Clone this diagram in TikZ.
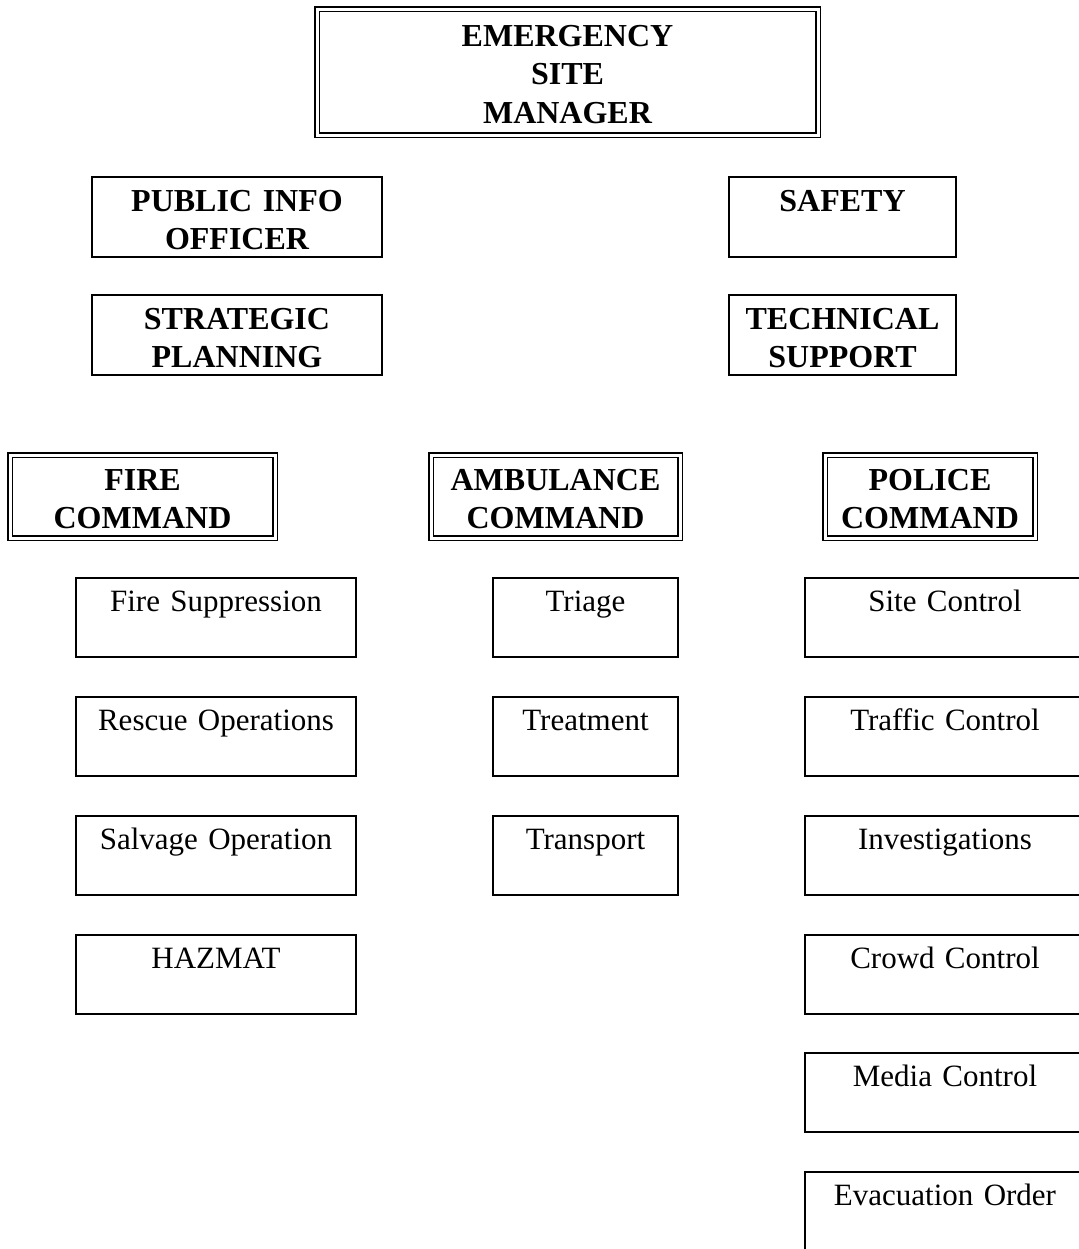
\documentclass[tikz,border=0pt]{standalone}
\usepackage{fontspec}
\setmainfont{Liberation Serif}
\usepackage{tikz}
\usetikzlibrary{positioning}
\tikzset{
    box/.style={draw, line width=0.8pt, inner sep=0pt, outer sep=0pt,
        anchor=north west, align=center},
    head/.style={box, font=\fontsize{16}{19.25}\selectfont\bfseries,
        text height=17pt, text depth=23pt},
    cmd/.style={head, double, line width=0.6pt, double distance=1.5pt,
        text height=17.5pt, text depth=24pt},
    unit/.style={box, font=\fontsize{15.5}{19}\selectfont,
        text height=16.5pt, text depth=23pt},
}

\begin{document}
\begin{tikzpicture}[x=0.5pt, y=-0.5pt]
        \useasboundingbox (0,0) rectangle (1078,1249);

        % top of the chart
        \node[cmd, text width=250.5pt, text height=18.5pt, text depth=44.5pt]
            (esm) at (317,9) {EMERGENCY\\SITE\\MANAGER};

        % staff
        \node[head, text width=145pt]   (pio)    at (92,177)  {PUBLIC INFO\\OFFICER};
        \node[head, text width=113.5pt] (safety) at (729,177) {SAFETY};
        \node[head, text width=145pt]   (strat)  at (92,295)  {STRATEGIC\\PLANNING};
        \node[head, text width=113.5pt] (tech)   at (729,295) {TECHNICAL\\SUPPORT};

        % the three commands
        \node[cmd, text width=132.5pt] (fire)   at (10,455)  {FIRE\\COMMAND};
        \node[cmd, text width=124.5pt] (amb)    at (431,455) {AMBULANCE\\COMMAND};
        \node[cmd, text width=105pt]   (police) at (825,455) {POLICE\\COMMAND};

        % fire units
        \node[unit, text width=140pt] (fsupp)   at (76,578) {Fire Suppression};
        \node[unit, text width=140pt] (rescue)  at (76,697) {Rescue Operations};
        \node[unit, text width=140pt] (salvage) at (76,816) {Salvage Operation};
        \node[unit, text width=140pt] (hazmat)  at (76,935) {HAZMAT};

        % ambulance units
        \node[unit, text width=92.5pt] (triage)    at (493,578) {Triage};
        \node[unit, text width=92.5pt] (treat)     at (493,697) {Treatment};
        \node[unit, text width=92.5pt] (transport) at (493,816) {Transport};

        % police units
        \node[unit, text width=140pt] (site)    at (805,578)  {Site Control};
        \node[unit, text width=140pt] (traffic) at (805,697)  {Traffic Control};
        \node[unit, text width=140pt] (invest)  at (805,816)  {Investigations};
        \node[unit, text width=140pt] (crowd)   at (805,935)  {Crowd Control};
        \node[unit, text width=140pt] (media)   at (805,1053) {Media Control};
        \node[unit, text width=140pt] (evac)    at (805,1172) {Evacuation Order};
    \end{tikzpicture}
\end{document}
